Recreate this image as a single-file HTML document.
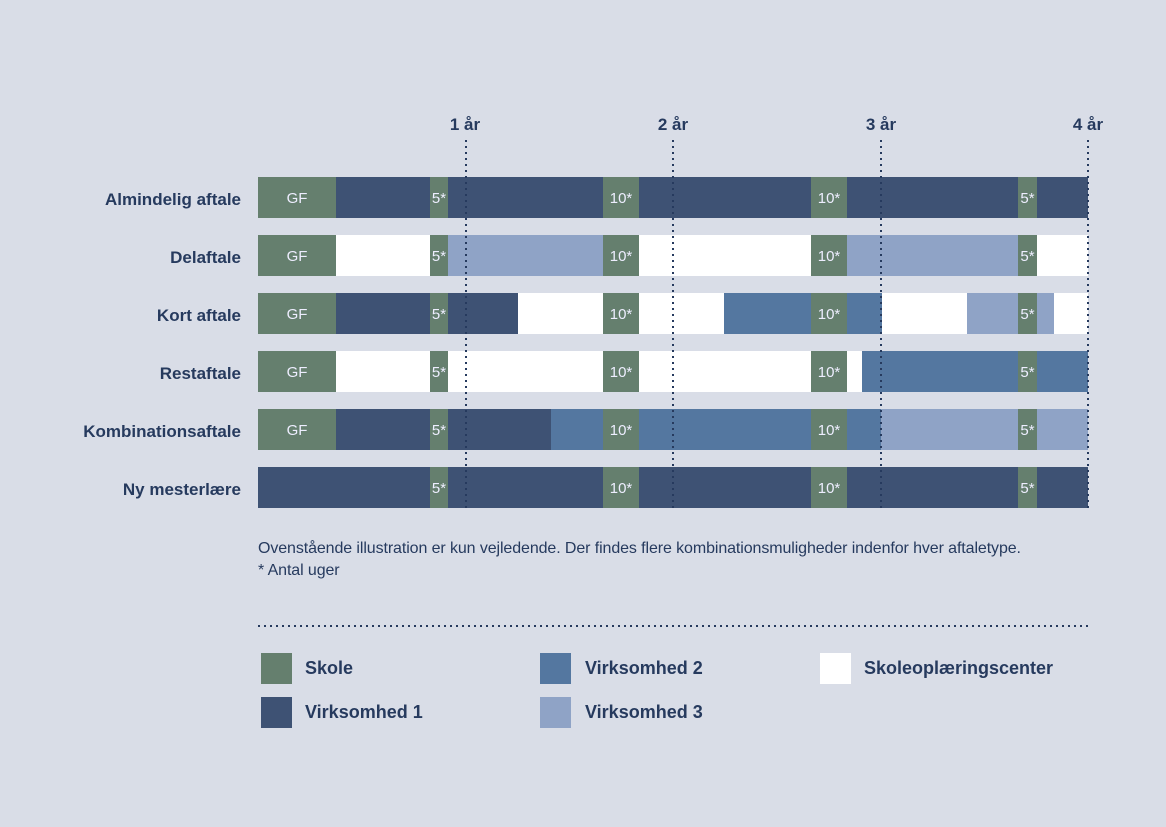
<!DOCTYPE html><html><head><meta charset="utf-8"><style>
body{margin:0;width:1166px;height:827px;background:#d9dde7;position:relative;overflow:hidden;font-family:"Liberation Sans",sans-serif;color:#263a5e}
.a{position:absolute}
.bar{position:absolute;left:258px;width:830px;height:41px}
.bar div{position:absolute;top:0;height:41px}
.g{background:#657f6e;color:#eef;font-size:15px;line-height:44px;text-align:center}
.n{background:#3e5274}.v2{background:#5477a0}.v3{background:#8fa3c6}.w{background:#fff}
.lab{position:absolute;right:925px;font-weight:bold;font-size:17px;line-height:45px;white-space:nowrap}
.vl{position:absolute;top:140px;height:370px;width:2px;background:repeating-linear-gradient(to bottom,#263a5e 0 2px,transparent 2px 6px)}
.tk{position:absolute;top:115px;font-weight:bold;font-size:17px;width:60px;text-align:center}
.sq{position:absolute;width:31px;height:31px}
.lg{position:absolute;font-weight:bold;font-size:18px;line-height:31px}
</style></head><body>
<div class="tk" style="left:435px">1 år</div><div class="tk" style="left:643px">2 år</div><div class="tk" style="left:851px">3 år</div><div class="tk" style="left:1058px">4 år</div>

<div class="lab" style="top:177px">Almindelig aftale</div>
<div class="bar n" style="top:177px"><div class="g" style="left:0;width:78px">GF</div><div class="g" style="left:172px;width:18px">5*</div><div class="g" style="left:345px;width:36px">10*</div><div class="g" style="left:553px;width:36px">10*</div><div class="g" style="left:760px;width:19px">5*</div></div>

<div class="lab" style="top:235px">Delaftale</div>
<div class="bar w" style="top:235px"><div class="v3" style="left:190px;width:155px"></div><div class="v3" style="left:589px;width:171px"></div><div class="g" style="left:0;width:78px">GF</div><div class="g" style="left:172px;width:18px">5*</div><div class="g" style="left:345px;width:36px">10*</div><div class="g" style="left:553px;width:36px">10*</div><div class="g" style="left:760px;width:19px">5*</div></div>

<div class="lab" style="top:293px">Kort aftale</div>
<div class="bar w" style="top:293px"><div class="n" style="left:78px;width:94px"></div><div class="n" style="left:190px;width:70px"></div><div class="v2" style="left:466px;width:87px"></div><div class="v2" style="left:589px;width:35px"></div><div class="v3" style="left:709px;width:51px"></div><div class="v3" style="left:779px;width:17px"></div><div class="g" style="left:0;width:78px">GF</div><div class="g" style="left:172px;width:18px">5*</div><div class="g" style="left:345px;width:36px">10*</div><div class="g" style="left:553px;width:36px">10*</div><div class="g" style="left:760px;width:19px">5*</div></div>

<div class="lab" style="top:351px">Restaftale</div>
<div class="bar w" style="top:351px"><div class="v2" style="left:604px;width:156px"></div><div class="v2" style="left:779px;width:51px"></div><div class="g" style="left:0;width:78px">GF</div><div class="g" style="left:172px;width:18px">5*</div><div class="g" style="left:345px;width:36px">10*</div><div class="g" style="left:553px;width:36px">10*</div><div class="g" style="left:760px;width:19px">5*</div></div>

<div class="lab" style="top:409px">Kombinationsaftale</div>
<div class="bar n" style="top:409px"><div class="v2" style="left:293px;width:330px"></div><div class="v3" style="left:623px;width:207px"></div><div class="g" style="left:0;width:78px">GF</div><div class="g" style="left:172px;width:18px">5*</div><div class="g" style="left:345px;width:36px">10*</div><div class="g" style="left:553px;width:36px">10*</div><div class="g" style="left:760px;width:19px">5*</div></div>

<div class="lab" style="top:467px">Ny mesterlære</div>
<div class="bar n" style="top:467px"><div class="g" style="left:172px;width:18px">5*</div><div class="g" style="left:345px;width:36px">10*</div><div class="g" style="left:553px;width:36px">10*</div><div class="g" style="left:760px;width:19px">5*</div></div>

<div class="vl" style="left:465px"></div><div class="vl" style="left:672px"></div><div class="vl" style="left:880px"></div><div class="vl" style="left:1087px"></div>

<div class="a" style="left:258px;top:538px;font-size:16px;line-height:22px;letter-spacing:-0.1px">Ovenstående illustration er kun vejledende. Der findes flere kombinationsmuligheder indenfor hver aftaletype.<br>* Antal uger</div>
<div class="a" style="left:258px;top:625px;width:830px;height:2px;background:repeating-linear-gradient(to right,#263a5e 0 2px,transparent 2px 6px)"></div>

<div class="sq" style="left:261px;top:653px;background:#657f6e"></div><div class="lg" style="left:305px;top:653px">Skole</div>
<div class="sq" style="left:261px;top:697px;background:#3e5274"></div><div class="lg" style="left:305px;top:697px">Virksomhed 1</div>
<div class="sq" style="left:540px;top:653px;background:#5477a0"></div><div class="lg" style="left:585px;top:653px">Virksomhed 2</div>
<div class="sq" style="left:540px;top:697px;background:#8fa3c6"></div><div class="lg" style="left:585px;top:697px">Virksomhed 3</div>
<div class="sq" style="left:820px;top:653px;background:#fff"></div><div class="lg" style="left:864px;top:653px">Skoleoplæringscenter</div>
</body></html>
